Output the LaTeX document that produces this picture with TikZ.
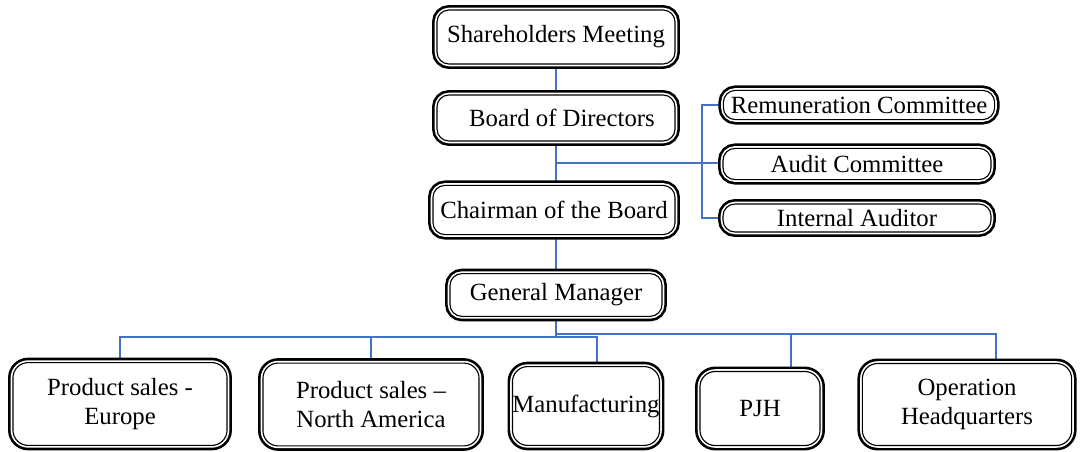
\documentclass[tikz,border=0pt]{standalone}
\usepackage{fontspec}
\setmainfont{Liberation Serif}
\usetikzlibrary{calc,backgrounds}

\begin{document}
\begin{tikzpicture}[x=0.025cm,y=-0.025cm,
	orgbox/.style={rounded corners=0.3cm, fill=white, draw=black, line width=0.8pt,
		preaction={draw=black, line width=7pt},
		preaction={draw=white, line width=3.2pt},
		align=center, inner sep=0pt, font=\rmfamily\fontsize{17.6}{21}\selectfont},
	link/.style={draw={rgb,255:red,68;green,114;blue,196}, line width=1.4pt}]
		\useasboundingbox (0,0) rectangle (1084,452);
		
		%main line
		\node[orgbox, minimum width=5.95cm, minimum height=1.35cm] (share) at (556,37) {Shareholders Meeting};
		\node[orgbox, minimum width=5.95cm, minimum height=1.15cm] (board) at (556,118) {\hspace{0.3cm}Board of Directors};
		\node[orgbox, minimum width=6.05cm, minimum height=1.23cm] (chair) at (554,210) {Chairman of the Board};
		\node[orgbox, minimum width=5.3cm, minimum height=1.07cm] (gm) at (556,295) {General Manager};
		
		%committees
		\node[orgbox, minimum width=6.78cm, minimum height=0.73cm] (remun) at (859,105) {Remuneration Committee};
		\node[orgbox, minimum width=6.7cm, minimum height=0.78cm] (audit) at (857,164) {Audit Committee};
		\node[orgbox, minimum width=6.7cm, minimum height=0.7cm] (intaud) at (857,218) {Internal Auditor};
		
		%departments
		\node[orgbox, rounded corners=0.38cm, minimum width=5.35cm, minimum height=2.07cm] (europe) at (120,404) {Product sales -\\Europe};
		\node[orgbox, rounded corners=0.38cm, minimum width=5.4cm, minimum height=2.07cm] (namerica) at (371,404.5) {Product sales –\\North America};
		\node[orgbox, rounded corners=0.38cm, minimum width=3.45cm, minimum height=1.97cm] (manuf) at (586,406) {Manufacturing};
		\node[orgbox, rounded corners=0.38cm, minimum width=3cm, minimum height=1.85cm] (pjh) at (760,408.5) {PJH};
		\node[orgbox, rounded corners=0.38cm, minimum width=5.23cm, minimum height=2.05cm] (ophq) at (967,404.5) {Operation\\Headquarters};
		
		%connectors
		\coordinate (bhub) at (556,163);
		\coordinate (cbus) at (702,163);
		\coordinate (lhub) at (556,337);
		\coordinate (rhub) at (556,334);
		\begin{scope}[on background layer]
			\draw[link] (share) -- (board);
			\draw[link] (board.south) -- (bhub) -- (bhub |- chair.north);
			\draw[link] (bhub) -- (bhub -| audit.west);
			\draw[link] (remun.west) -| (cbus) |- (intaud.west);
			\draw[link] (chair.south -| gm.north) -- (gm.north);
			\draw[link] (gm.south) -- (lhub);
			\draw[link] (lhub) -| (europe.north);
			\draw[link] (lhub -| namerica.north) -- (namerica.north);
			\draw[link] (lhub) -| ($(manuf.north)+(11,0)$);
			\draw[link] (rhub) -| ($(pjh.north)+(31,0)$);
			\draw[link] (rhub) -| ($(ophq.north)+(29,0)$);
		\end{scope}
\end{tikzpicture}
\end{document}
